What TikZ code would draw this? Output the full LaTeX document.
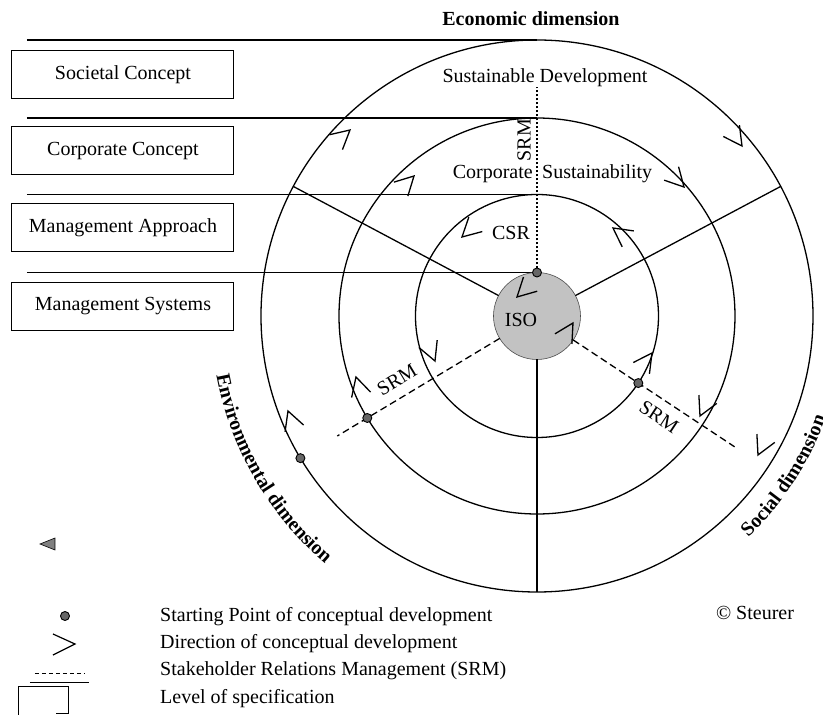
\documentclass[tikz,border=0pt]{standalone}
\usepackage{fontspec}
\setmainfont{Liberation Serif}
\usetikzlibrary{decorations.text}
% direction mark: tip at (x,y), pointing to angle
\newcommand{\chev}[3]{\draw[chevron] (#1,#2) ++({#3+152}:2.1) -- (#1,#2) -- ++({#3-152}:2.1);}
\begin{document}
\begin{tikzpicture}[x=10pt,y=10pt,
    ring/.style={line width=1.3pt},
    chevron/.style={line width=1.3pt},
    srm/.style={line width=1.3pt,dash pattern=on 7pt off 4pt},
    start/.style={fill=black!60,draw=black,line width=0.9pt},
    level/.style={draw,line width=1pt,minimum width=222pt,minimum height=48pt},
    every node/.style={font=\fontsize{20}{24}\selectfont,inner sep=0pt}]
  \useasboundingbox (-53.7,-39.9) rectangle (28.6,31.6);

  % levels of specification
  \node[level] (societal) at (-41.4,24.1) {Societal Concept};
  \node[level] (corporate) at (-41.4,16.5) {Corporate Concept};
  \node[level] (approach) at (-41.4,8.85) {Management Approach};
  \node[level] (systems) at (-41.4,0.95) {Management Systems};
  \foreach \r in {27.6,19.8,12.15,4.35}
    \draw[line width=1.1pt] (-51,\r) -- (0,\r);

  % rings
  \foreach \r in {27.6,19.8,12.15}
    \draw[ring] (0,0) circle (\r);
  \filldraw[fill=black!24,draw=black!70,line width=0.6pt] (0,0) circle (4.35);
  \foreach \a in {28,152,270}
    \draw[ring] (\a:4.35) -- (\a:27.6);

  % stakeholder relations management
  \draw[line width=1.4pt,dash pattern=on 2.5pt off 1.5pt] (90:4.35) -- (90:22.9);
  \draw[srm] (211:4.35) -- (211:23.3);
  \draw[srm] (-33.5:4.35) -- (-33.5:23.7);

  % starting points
  \foreach \a/\r in {90/4.35,211/19.8,-33.5/12.15,211/27.6}
    \filldraw[start] (\a:\r) circle (0.45);

  % directions
  \chev{-18.7}{18.6}{41}
  \chev{-12.3}{14.0}{45}
  \chev{-7.5}{7.9}{223}
  \chev{7.6}{8.8}{144}
  \chev{14.7}{12.9}{-47}
  \chev{20.5}{17.0}{-55}
  \chev{-2.0}{1.9}{224}
  \chev{3.6}{-0.7}{59}
  \chev{-10.2}{-4.5}{-68}
  \chev{-18.1}{-6.1}{106}
  \chev{-24.9}{-9.5}{110}
  \chev{11.5}{-3.7}{55}
  \chev{16.3}{-10.0}{245}
  \chev{22.1}{-13.9}{245}

  % labels
  \node[font=\fontsize{20}{24}\selectfont\bfseries] (econ) at (-0.6,29.7) {Economic dimension};
  \node (sustdev) at (0.8,23.8) {Sustainable Development};
  \node[rotate=90] (srmtop) at (-1.3,17.6) {SRM};
  \node[anchor=east] (corp) at (-0.4,14.2) {Corporate};
  \node[anchor=west] (sust) at (0.5,14.2) {Sustainability};
  \node (csr) at (-2.6,8.3) {CSR};
  \node (iso) at (-1.6,-0.4) {ISO};
  \node[rotate=31] (srmleft) at (-14.0,-6.4) {SRM};
  \node[rotate=-33.5] (srmright) at (12.2,-10.1) {SRM};
  \path[postaction={decorate},decoration={text along path,text align=center,
      text={|\fontsize{20}{24}\selectfont\bfseries|Environmental dimension}}]
    (180:32.6) arc[start angle=180,end angle=240,radius=32.6];
  \path[postaction={decorate},decoration={text along path,text align=left,
      text={|\fontsize{20}{24}\selectfont\bfseries|Social dimension}}]
    (-46.3:30.6) arc[start angle=-46.3,end angle=-5,radius=30.6];
  \node (steurer) at (21.8,-29.7) {\textcopyright{} Steurer};
  \filldraw[fill=black!50,line width=0.6pt] (-49.7,-22.8) -- (-48.2,-22.2) -- (-48.2,-23.4) -- cycle;

  % legend
  \filldraw[start] (-47.2,-30.0) circle (0.45);
  \draw[line width=1.2pt] (-48.4,-31.8) -- (-46.2,-32.8) -- (-48.4,-33.9);
  \draw[line width=0.9pt,dash pattern=on 4pt off 3pt] (-50.2,-35.7) -- (-45.2,-35.7);
  \draw[line width=1pt] (-50.7,-36.6) -- (-44.8,-36.6);
  \draw[line width=0.8pt] (-51.9,-39.9) -- (-51.9,-37.0) -- (-46.9,-37.0) -- (-46.9,-39.7) -- (-48.1,-39.7);
  \node[anchor=west] (lstart) at (-37.7,-30.1) {Starting Point of conceptual development};
  \node[anchor=west] (ldir) at (-37.7,-32.8) {Direction of conceptual development};
  \node[anchor=west] (lsrm) at (-37.7,-35.5) {Stakeholder Relations Management (SRM)};
  \node[anchor=west] (llevel) at (-37.7,-38.3) {Level of specification};
\end{tikzpicture}
\end{document}
